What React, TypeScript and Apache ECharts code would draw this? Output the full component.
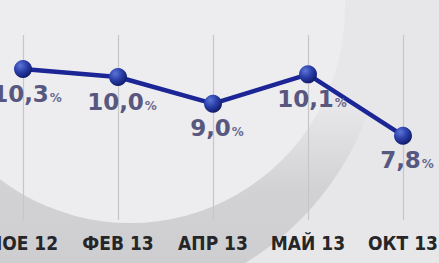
import React, { useEffect, useRef } from "react";
import * as echarts from "echarts";

const categories = ["НОЕ 12", "ФЕВ 13", "АПР 13", "МАЙ 13", "ОКТ 13"];
const values = [10.3, 10.0, 9.0, 10.1, 7.8];
const valueLabels = ["10,3", "10,0", "9,0", "10,1", "7,8"];

export default function App() {
  const ref = useRef<HTMLDivElement>(null);
  useEffect(() => {
    document.body.style.margin = "0";
    const chart = echarts.init(ref.current!, null, { renderer: "svg" });
    chart.setOption({
      animation: false,
      backgroundColor: "#e7e7e9",
      graphic: [
        {
          type: "circle",
          z: -10,
          silent: true,
          shape: { cx: 95, cy: 15, r: 290 },
          style: {
            fill: new echarts.graphic.LinearGradient(0, 0, 0, 1, [
              { offset: 0, color: "rgba(210,210,213,0)" },
              { offset: 0.66, color: "rgba(210,210,213,0)" },
              { offset: 0.8, color: "rgba(210,210,213,1)" },
              { offset: 1, color: "rgba(204,204,207,1)" },
            ]),
          },
        },
        {
          type: "circle",
          z: -9,
          silent: true,
          shape: { cx: 130, cy: 8, r: 215 },
          style: { fill: "#ededef" },
        },
      ],
      grid: { left: 23, right: 36, top: 35, bottom: 43, outerBoundsMode: "none", containLabel: false },
      xAxis: {
        type: "category",
        data: categories,
        boundaryGap: false,
        axisLine: { show: false },
        axisTick: { show: false },
        splitLine: { show: true, lineStyle: { color: "#c6c6c9", width: 1.2 } },
        axisLabel: {
          interval: 0,
          hideOverlap: false,
          margin: 13,
          color: "#262628",
          fontFamily: "DejaVu Sans Condensed",
          fontWeight: "bold",
          fontSize: 19,
        },
      },
      yAxis: {
        type: "value",
        min: 4.64,
        max: 11.575,
        show: false,
        splitLine: { show: false },
      },
      series: [
        {
          type: "line",
          data: values,
          symbol: "circle",
          symbolSize: 18,
          lineStyle: { color: "#1b2596", width: 4.5 },
          itemStyle: {
            color: new echarts.graphic.RadialGradient(0.35, 0.3, 0.75, [
              { offset: 0, color: "#5d75d6" },
              { offset: 0.5, color: "#2a3fa8" },
              { offset: 1, color: "#0e1866" },
            ]),
            borderWidth: 0,
          },
          label: {
            show: true,
            position: "bottom",
            distance: 4,
            offset: [4, 0],
            formatter: (p: any) => `{a|${valueLabels[p.dataIndex]}}{b|%}`,
            rich: {
              a: {
                fontFamily: "DejaVu Sans",
                fontWeight: "bold",
                fontSize: 23,
                color: "#58577f",
              },
              b: {
                fontFamily: "DejaVu Sans",
                fontWeight: "bold",
                fontSize: 12,
                color: "#6a6990",
                padding: [8, 0, 0, 1],
              },
            },
          },
        },
      ],
    });
    return () => chart.dispose();
  }, []);
  return <div ref={ref} style={{ width: 439, height: 263 }} />;
}
